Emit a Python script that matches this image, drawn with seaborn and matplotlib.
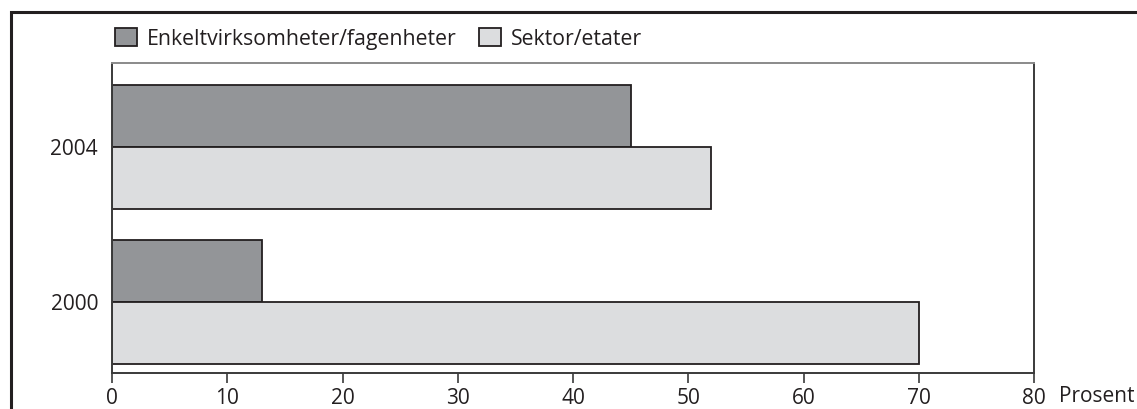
import matplotlib
matplotlib.use("Agg")
import matplotlib.pyplot as plt
from matplotlib.patches import Rectangle
import seaborn as sns
import pandas as pd

years = ["2004", "2000"]
series = ["Enkeltvirksomheter/fagenheter", "Sektor/etater"]
enkelt = [45, 13]
sektor = [52, 70]
x_ticks = [0, 10, 20, 30, 40, 50, 60, 70, 80]
x_unit = "Prosent"

colors = {series[0]: "#939598", series[1]: "#dcdddf"}
ink = "#231f20"

sns.set_theme(style="white")
plt.rcParams["font.family"] = ["Open Sans", "DejaVu Sans"]

df = pd.DataFrame({
    "year": years * 2,
    "series": [series[0]] * len(years) + [series[1]] * len(years),
    "value": enkelt + sektor,
})

W, H = 1137, 409
fig = plt.figure(figsize=(W / 100, H / 100), dpi=100)
ax = fig.add_axes([112 / W, 36 / H, 922 / W, 310 / H])

sns.barplot(data=df, x="value", y="year", hue="series", orient="h",
            order=years, hue_order=series, palette=colors,
            edgecolor=ink, linewidth=1.3, width=0.8, saturation=1,
            errorbar=None, ax=ax)

ax.set_xlim(0, 80)
ax.set_ylim(1.458, -0.542)
ax.set_xticks(x_ticks)
ax.set_xticklabels([str(t) for t in x_ticks])
ax.set_xlabel("")
ax.set_ylabel("")

for side in ["left", "right", "top", "bottom"]:
    ax.spines[side].set_visible(True)
    ax.spines[side].set_color("#3a3a3a")
    ax.spines[side].set_linewidth(1.4)
ax.spines["top"].set_color("#8a8a8a")

ax.tick_params(axis="x", direction="out", length=7, width=1.2, color="#3a3a3a",
               labelsize=15, labelcolor=ink, pad=3.5, bottom=True)
ax.tick_params(axis="y", length=0, labelsize=15, labelcolor=ink, pad=10)

fig.text(1059 / W, 1 - 397 / H, x_unit, ha="left", va="center",
         fontsize=15, color=ink)

handles, labels = ax.get_legend_handles_labels()
ax.get_legend().remove()
fig.legend(handles, labels, ncol=2, loc="center left",
           bbox_to_anchor=(115 / W, 1 - 39 / H), frameon=False, fontsize=15.3,
           handlelength=1.05, handleheight=0.9, handletextpad=0.45,
           columnspacing=1.05, borderaxespad=0, borderpad=0,
           labelcolor=ink)

# figure frame, open to the right and bottom
fig.patches.append(Rectangle((11 / W, -0.1), 1.2, 397 / H + 0.1,
                             transform=fig.transFigure, fill=False,
                             edgecolor=ink, linewidth=2.2, zorder=10))

fig.savefig("out.png", dpi=100)
